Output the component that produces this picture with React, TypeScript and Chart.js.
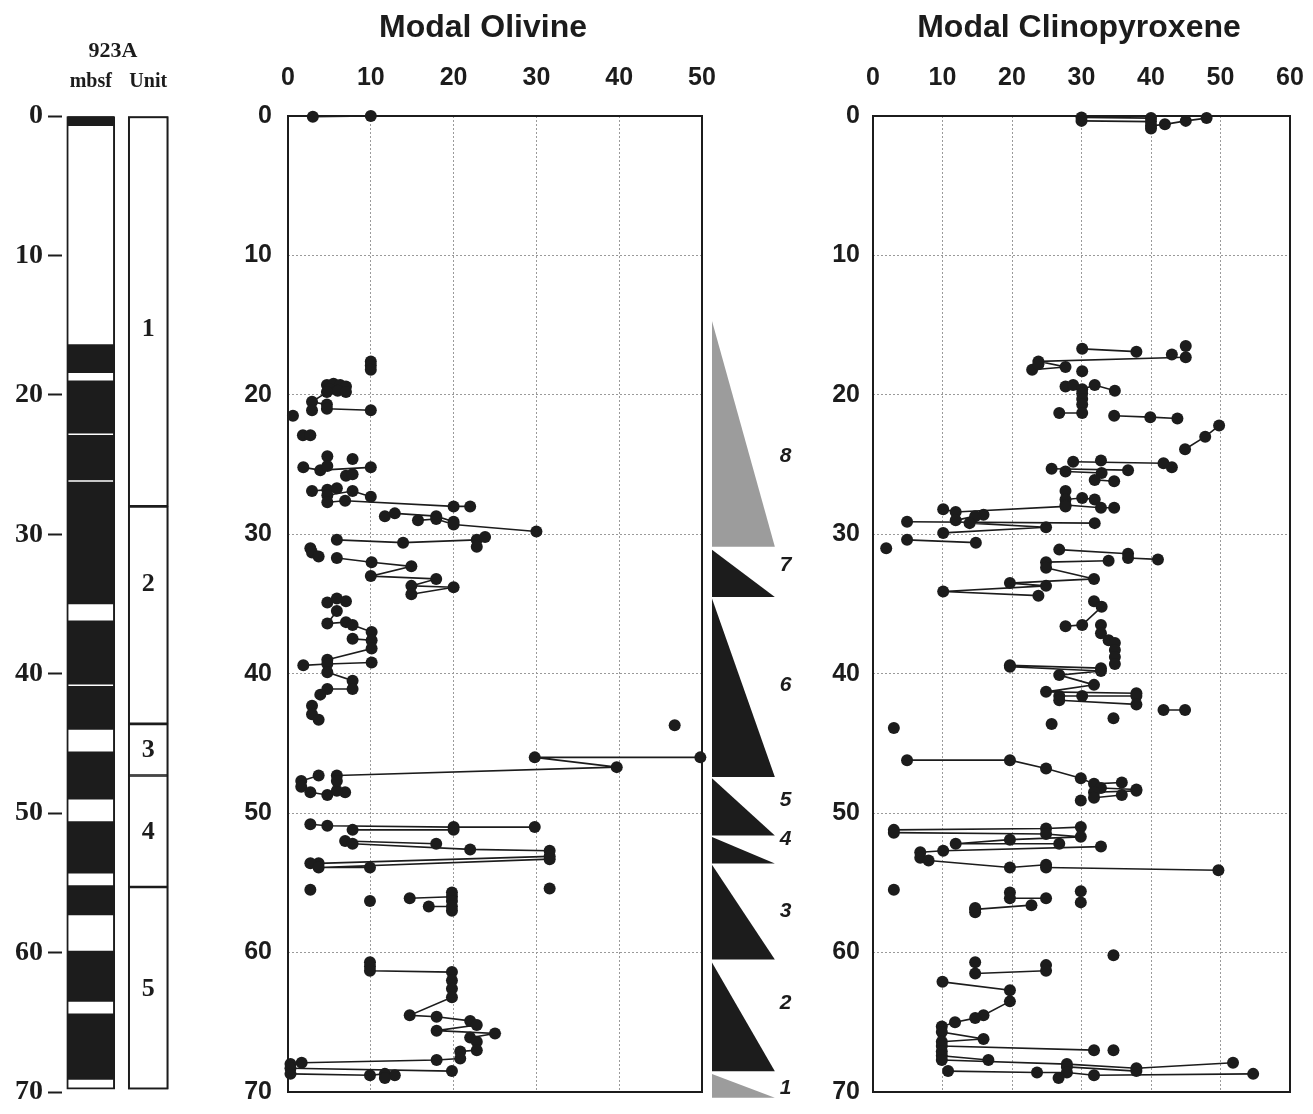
import React, { useEffect, useRef } from "react";
import { Chart, registerables } from "chart.js";

Chart.register(...registerables);

const SANS = '"Liberation Sans", Arial, Helvetica, sans-serif';
const SERIF = '"Liberation Serif", "Times New Roman", serif';
const INK = "#1c1c1c";
const GRID = "#9a9a9a";
const PAGE_W = 1313;
const PAGE_H = 1114;
const PANEL_H = 1130;

// ---------- data ----------
const depthTicks = [0, 10, 20, 30, 40, 50, 60, 70];
const olivineTicks = [0, 10, 20, 30, 40, 50];
const cpxTicks = [0, 10, 20, 30, 40, 50, 60];

// core log (mbsf): black = recovered intervals
const logBottom = 69.8;
const logBlackIntervals: [number, number][] = [
  [0, 0.7], [16.4, 18.4], [19.0, 22.75], [22.9, 26.1], [26.25, 35.0],
  [36.2, 40.75], [40.9, 44.0], [45.6, 49.0], [50.6, 54.3], [55.2, 57.3],
  [59.9, 63.5], [64.4, 69.1],
];

// lithologic units
const unitNames = ["1", "2", "3", "4", "5"];
const unitTops = [0, 28.0, 43.6, 47.3, 55.3];
const unitBottoms = [28.0, 43.6, 47.3, 55.3, 69.8];
const unitLabelDepths = [15.3, 33.6, 45.5, 51.4, 62.6];

// cyclic units (triangles)
const cycleNames = ["8", "7", "6", "5", "4", "3", "2", "1"];
const cycleTops = [14.7, 31.1, 34.6, 47.5, 51.7, 53.7, 60.7, 68.7];
const cycleBottoms = [30.9, 34.5, 47.4, 51.6, 53.6, 60.5, 68.5, 70.4];
const cycleGray = [true, false, false, false, false, false, false, true];
const cycleLabelDepths = [24.4, 32.2, 40.8, 49.1, 51.9, 57.0, 63.6, 69.7];

// Modal olivine: polylines of [modal %, depth mbsf]
const olivineSegments: [number, number][][] = [
  [[3, 0.05], [10, 0]],
  [[10, 17.6], [10, 17.9], [10, 18.2]],
  [[4.7, 19.3], [5.5, 19.2], [6.3, 19.3], [7.0, 19.4]],
  [[5.0, 19.6], [6.0, 19.7], [7.0, 19.8]],
  [[4.7, 19.8], [2.9, 20.5], [4.7, 20.7], [4.7, 21.0], [10, 21.1]],
  [[2.9, 21.1]],
  [[0.6, 21.5]],
  [[1.8, 22.9], [2.7, 22.9]],
  [[4.75, 24.4]],
  [[7.8, 24.6]],
  [[1.85, 25.2], [3.9, 25.4], [10, 25.2]],
  [[4.75, 25.1]],
  [[7.0, 25.8], [7.8, 25.7]],
  [[2.9, 26.9], [4.75, 26.8], [5.9, 26.7]],
  [[4.75, 27.2], [7.8, 26.9], [10, 27.3]],
  [[4.75, 27.7], [6.9, 27.6], [20, 28.0], [22, 28.0]],
  [[11.7, 28.7], [12.9, 28.5], [17.9, 28.7], [20, 29.1]],
  [[15.7, 29.0], [17.9, 28.9], [20, 29.3], [30, 29.8]],
  [[5.9, 30.4], [13.9, 30.6], [22.8, 30.4], [23.8, 30.2]],
  [[22.8, 30.9]],
  [[2.7, 31.0], [2.9, 31.3], [3.7, 31.6]],
  [[5.9, 31.7], [10.1, 32.0], [14.9, 32.3], [10.0, 33.0], [17.9, 33.2], [14.9, 33.7], [20, 33.8], [14.9, 34.3]],
  [[4.75, 34.9], [5.9, 34.6], [7.0, 34.8]],
  [[5.9, 35.5], [4.75, 36.4], [7.0, 36.3], [7.8, 36.5], [10.1, 37.0]],
  [[7.8, 37.5], [10.1, 37.6], [10.1, 38.2], [4.75, 39.0]],
  [[1.85, 39.4], [4.75, 39.3], [10.1, 39.2]],
  [[4.75, 39.9], [7.8, 40.5], [7.8, 41.1], [4.75, 41.1], [3.9, 41.5]],
  [[2.9, 42.3], [2.9, 42.9], [3.7, 43.3]],
  [[46.7, 43.7]],
  [[49.8, 46.0], [29.8, 46.0], [39.7, 46.7], [5.9, 47.3]],
  [[3.7, 47.3], [1.6, 47.7], [1.6, 48.1], [2.7, 48.5], [4.75, 48.7], [6.9, 48.5], [5.9, 48.4], [5.9, 47.7]],
  [[2.7, 50.8], [4.75, 50.9], [20, 51.0], [29.8, 51.0]],
  [[7.8, 51.2], [20, 51.2]],
  [[6.9, 52.0], [17.9, 52.2]],
  [[7.8, 52.2], [22, 52.6], [31.6, 52.7]],
  [[31.6, 53.1], [3.7, 53.6], [2.7, 53.6]],
  [[31.6, 53.3], [3.7, 53.9], [9.9, 53.9]],
  [[2.7, 55.5]],
  [[31.6, 55.4]],
  [[9.9, 56.3]],
  [[14.7, 56.1], [19.8, 56.0]],
  [[19.8, 55.7], [19.8, 56.3], [19.8, 57.0]],
  [[17.0, 56.7], [19.8, 56.7]],
  [[9.9, 60.7], [9.9, 61.0], [9.9, 61.3], [19.8, 61.4], [19.8, 62.0], [19.8, 62.6], [19.8, 63.2], [14.7, 64.5], [17.95, 64.6], [22, 64.9], [22.8, 65.2], [17.95, 65.6], [25, 65.8], [22, 66.1], [22.8, 66.4], [22.8, 67.0], [20.8, 67.1], [20.8, 67.6], [17.95, 67.7], [1.65, 67.9], [0.3, 68.0]],
  [[0.3, 68.3], [19.8, 68.5]],
  [[0.3, 68.7], [9.9, 68.8], [11.7, 68.7], [12.9, 68.8], [11.7, 69.0]],
];

// Modal clinopyroxene: polylines of [modal %, depth mbsf]
const cpxSegments: [number, number][][] = [
  [[30, 0.1], [40, 0.15]],
  [[30, 0.35], [40, 0.4], [40, 0.7], [42, 0.6], [45, 0.35], [48, 0.15]],
  [[40, 0.9]],
  [[30.1, 16.7], [37.9, 16.9]],
  [[45, 16.5]],
  [[43, 17.1]],
  [[45, 17.3], [23.8, 17.6], [27.7, 18.0], [22.9, 18.2], [23.8, 17.8]],
  [[30.1, 18.3]],
  [[27.7, 19.4], [28.8, 19.3], [30.1, 19.6], [31.9, 19.3], [34.8, 19.7]],
  [[30.1, 19.9], [30.1, 20.3], [30.1, 20.7], [30.1, 21.3], [26.8, 21.3]],
  [[34.7, 21.5], [39.9, 21.6], [43.8, 21.7]],
  [[49.8, 22.2], [47.8, 23.0], [44.9, 23.9]],
  [[32.8, 24.7]],
  [[28.8, 24.8], [41.8, 24.9], [43, 25.2]],
  [[25.7, 25.3], [36.7, 25.4]],
  [[27.7, 25.5], [32.9, 25.6], [31.9, 26.1], [34.7, 26.2]],
  [[27.7, 26.9], [27.7, 27.5], [30.1, 27.4], [31.9, 27.5]],
  [[27.7, 27.9], [32.8, 28.1], [34.7, 28.1]],
  [[10.1, 28.2], [11.9, 28.4], [27.7, 28.0]],
  [[15.9, 28.6], [14.7, 28.7], [11.9, 29.0]],
  [[4.9, 29.1], [31.9, 29.2]],
  [[13.9, 29.2], [24.9, 29.5], [10.1, 29.9]],
  [[4.9, 30.4], [14.8, 30.6]],
  [[1.9, 31.0]],
  [[26.8, 31.1], [36.7, 31.4]],
  [[36.7, 31.7], [41, 31.8]],
  [[33.9, 31.9], [24.9, 32.0]],
  [[24.9, 32.4], [31.8, 33.2], [19.7, 33.5], [24.9, 33.7], [10.1, 34.1], [23.8, 34.4]],
  [[31.8, 34.8], [32.9, 35.2], [30.1, 36.5], [27.7, 36.6]],
  [[32.8, 36.5], [32.8, 37.1], [33.9, 37.6], [34.8, 37.8], [34.8, 38.3], [34.8, 38.8], [34.8, 39.3]],
  [[19.7, 39.4], [32.8, 39.6]],
  [[19.7, 39.5], [32.8, 39.8], [26.8, 40.1], [31.8, 40.8], [24.9, 41.3], [37.9, 41.4]],
  [[26.8, 41.6], [30.1, 41.6], [37.9, 41.6]],
  [[26.8, 41.9], [37.9, 42.2]],
  [[41.8, 42.6], [44.9, 42.6]],
  [[34.6, 43.2]],
  [[25.7, 43.6]],
  [[3.0, 43.9]],
  [[4.9, 46.2], [19.7, 46.2], [24.9, 46.8], [29.9, 47.5], [31.8, 47.9], [35.8, 47.8]],
  [[32.8, 48.2], [37.9, 48.3]],
  [[31.8, 48.5], [37.9, 48.4]],
  [[31.8, 48.9], [35.8, 48.7]],
  [[29.9, 49.1]],
  [[3, 51.2], [24.9, 51.1], [29.9, 51.0]],
  [[3, 51.4], [24.9, 51.5], [29.9, 51.7], [19.7, 51.9], [11.9, 52.2], [26.8, 52.2]],
  [[32.8, 52.4], [10.1, 52.7], [6.8, 52.8]],
  [[6.8, 53.2], [8, 53.4], [19.7, 53.9], [24.9, 53.7]],
  [[24.9, 53.9], [49.7, 54.1]],
  [[3, 55.5]],
  [[19.7, 55.7], [19.7, 56.1], [24.9, 56.1]],
  [[29.9, 55.6], [29.9, 56.4]],
  [[14.7, 56.8], [14.7, 57.1]],
  [[14.7, 56.9], [22.8, 56.6]],
  [[34.6, 60.2]],
  [[14.7, 60.7]],
  [[24.9, 60.9]],
  [[14.7, 61.5], [24.9, 61.3]],
  [[10, 62.1], [19.7, 62.7], [19.7, 63.5], [15.9, 64.5], [14.7, 64.7], [11.8, 65.0], [9.9, 65.3], [9.9, 65.7], [15.9, 66.2], [9.9, 66.4], [9.9, 66.7], [31.8, 67.0]],
  [[34.6, 67.0]],
  [[9.9, 67.1], [9.9, 67.4], [16.6, 67.7]],
  [[9.9, 67.7], [27.9, 68.0], [37.9, 68.3], [51.8, 67.9]],
  [[27.9, 68.2], [37.9, 68.5]],
  [[10.8, 68.5], [23.6, 68.6], [27.9, 68.6], [31.8, 68.8], [54.7, 68.7]],
  [[26.7, 69.0]],
];

// ---------- helpers ----------
function toLineData(segs: [number, number][][]) {
  const out: { x: number | null; y: number | null }[] = [];
  segs.forEach((seg, i) => {
    if (i > 0) out.push({ x: null, y: null });
    seg.forEach(([v, d]) => out.push({ x: v, y: d }));
  });
  return out;
}

const framePlugin = {
  id: "frame",
  beforeDatasetsDraw(chart: any) {
    const { ctx, chartArea: a } = chart;
    ctx.save();
    ctx.strokeStyle = INK;
    ctx.lineWidth = 2;
    ctx.strokeRect(a.left, a.top, a.right - a.left, a.bottom - a.top);
    ctx.restore();
  },
};

// invisible right-hand spacer axis (keeps titles centred like the original figure)
function spacerAxis(width: number): any {
  return {
    type: "linear",
    position: "right",
    display: true,
    min: 0,
    max: 1,
    ticks: { display: false },
    grid: { display: false, drawTicks: false },
    border: { display: false },
    afterFit: (s: any) => {
      s.width = width;
    },
  };
}

function panelConfig(p: {
  title: string;
  segments: [number, number][][];
  xMax: number;
  xTicks: number[];
  yAxisWidth: number;
  rightWidth: number;
  yTickPad: number;
}): any {
  const tickFont = { family: SANS, size: 25, weight: "bold" as const };
  return {
    type: "line",
    data: {
      datasets: [
        {
          data: toLineData(p.segments),
          borderColor: INK,
          borderWidth: 1.6,
          pointRadius: 6,
          pointBackgroundColor: INK,
          pointBorderColor: INK,
          pointBorderWidth: 0,
          spanGaps: false,
          tension: 0,
          fill: false,
          clip: false,
        },
      ],
    },
    options: {
      animation: false,
      responsive: false,
      events: [],
      layout: { padding: { left: 0, right: 0, top: 0, bottom: PANEL_H - 1092 } },
      plugins: {
        legend: { display: false },
        tooltip: { enabled: false },
        title: {
          display: true,
          text: p.title,
          color: INK,
          font: { family: SANS, size: 32, weight: "bold" },
          padding: { top: 9, bottom: 7 },
        },
      },
      scales: {
        x: {
          type: "linear",
          position: "top",
          min: 0,
          max: p.xMax,
          afterFit: (s: any) => {
            s.height = 116 - 54.4;
          },
          afterBuildTicks: (s: any) => {
            s.ticks = p.xTicks.map((v) => ({ value: v }));
          },
          ticks: { color: INK, font: tickFont, padding: 23 },
          grid: { color: GRID, lineWidth: 1, drawTicks: false },
          border: { display: false, dash: [2, 2] },
        },
        y: {
          type: "linear",
          position: "left",
          reverse: true,
          min: 0,
          max: 70,
          afterFit: (s: any) => {
            s.width = p.yAxisWidth;
          },
          afterBuildTicks: (s: any) => {
            s.ticks = depthTicks.map((v) => ({ value: v }));
          },
          ticks: { color: INK, font: tickFont, padding: p.yTickPad },
          grid: { color: GRID, lineWidth: 1, drawTicks: false },
          border: { display: false, dash: [2, 2] },
        },
        yR: spacerAxis(p.rightWidth),
      },
    },
    plugins: [framePlugin],
  };
}

const unitLabelPlugin = {
  id: "unitLabels",
  afterDatasetsDraw(chart: any) {
    const { ctx, scales } = chart;
    const x = scales.x.getPixelForValue(1);
    ctx.save();
    ctx.fillStyle = INK;
    ctx.font = `bold 26px ${SERIF}`;
    ctx.textAlign = "center";
    ctx.textBaseline = "middle";
    unitNames.forEach((n, i) => {
      ctx.fillText(n, x, scales.y.getPixelForValue(unitLabelDepths[i]));
    });
    ctx.restore();
  },
};

function logConfig(): any {
  return {
    type: "bar",
    data: {
      labels: ["mbsf", "Unit"],
      datasets: [
        {
          data: logBlackIntervals.map(([a, b]) => ({ x: "mbsf", y: [a, b] })),
          backgroundColor: INK,
          borderWidth: 0,
          barThickness: 46,
          grouped: false,
          yAxisID: "y",
        },
        {
          data: unitTops.map((t, i) => ({ x: "Unit", y: [t, unitBottoms[i]] })),
          backgroundColor: "rgba(0,0,0,0)",
          borderColor: INK,
          borderWidth: 1,
          borderSkipped: false,
          barThickness: 40,
          grouped: false,
          yAxisID: "y",
        },
        {
          data: [{ x: "mbsf", y: [0, logBottom] }],
          backgroundColor: "#ffffff",
          borderColor: INK,
          borderWidth: 2,
          borderSkipped: false,
          barThickness: 48,
          grouped: false,
          yAxisID: "y",
        },
        {
          data: [{ x: "Unit", y: [0, unitBottoms[unitBottoms.length - 1]] }],
          backgroundColor: "#ffffff",
          borderColor: INK,
          borderWidth: 2,
          borderSkipped: false,
          barThickness: 40,
          grouped: false,
          yAxisID: "y",
        },
      ],
    },
    options: {
      animation: false,
      responsive: false,
      events: [],
      layout: { padding: { left: 0, right: 0, top: 0, bottom: PANEL_H - 1092 } },
      plugins: {
        legend: { display: false },
        tooltip: { enabled: false },
        title: {
          display: true,
          text: "923A",
          color: INK,
          font: { family: SERIF, size: 22, weight: "bold" },
          padding: { top: 38, bottom: 4 },
        },
      },
      scales: {
        x: {
          position: "top",
          afterFit: (s: any) => {
            s.height = 116 - 68.4;
          },
          grid: { display: false },
          border: { display: false },
          ticks: { color: INK, font: { family: SERIF, size: 20, weight: "bold" }, padding: 14 },
        },
        y: {
          type: "linear",
          position: "left",
          reverse: true,
          min: 0,
          max: 70,
          afterFit: (s: any) => {
            s.width = 62;
          },
          afterBuildTicks: (s: any) => {
            s.ticks = depthTicks.map((v) => ({ value: v }));
          },
          ticks: { color: INK, font: { family: SERIF, size: 28, weight: "bold" }, padding: 5 },
          grid: {
            drawOnChartArea: false,
            drawTicks: true,
            tickLength: 14,
            tickWidth: 2,
            tickColor: INK,
            color: INK,
          },
          border: { display: false },
        },
        yR: spacerAxis(49),
      },
    },
    plugins: [unitLabelPlugin],
  };
}

const cycleLabelPlugin = {
  id: "cycleLabels",
  afterDatasetsDraw(chart: any) {
    const { ctx, scales } = chart;
    const x = scales.x.getPixelForValue(1.17);
    ctx.save();
    ctx.fillStyle = INK;
    ctx.font = `italic bold 21px ${SANS}`;
    ctx.textAlign = "center";
    ctx.textBaseline = "middle";
    cycleNames.forEach((n, i) => {
      ctx.fillText(n, x, scales.y.getPixelForValue(cycleLabelDepths[i]));
    });
    ctx.restore();
  },
};

function cycleConfig(): any {
  return {
    type: "line",
    data: {
      datasets: cycleNames.map((_, i) => {
        const col = cycleGray[i] ? "#9c9c9c" : INK;
        return {
          data: [
            { x: 0, y: cycleTops[i] },
            { x: 1, y: cycleBottoms[i] },
            { x: 0, y: cycleBottoms[i] },
          ],
          fill: "shape",
          backgroundColor: col,
          borderColor: col,
          borderWidth: 0,
          pointRadius: 0,
          tension: 0,
        };
      }),
    },
    options: {
      animation: false,
      responsive: false,
      events: [],
      layout: { padding: { left: 12, right: 10, top: 116, bottom: 8 } },
      plugins: { legend: { display: false }, tooltip: { enabled: false } },
      scales: {
        x: { type: "linear", display: false, min: 0, max: 1.4 },
        y: { type: "linear", display: false, reverse: true, min: 0, max: 71 },
      },
    },
    plugins: [cycleLabelPlugin],
  };
}

function ChartCanvas({
  left,
  width,
  height,
  make,
}: {
  left: number;
  width: number;
  height: number;
  make: () => any;
}) {
  const ref = useRef<HTMLCanvasElement | null>(null);
  useEffect(() => {
    if (!ref.current) return;
    const chart = new Chart(ref.current, make());
    return () => chart.destroy();
  }, []);
  return (
    <canvas
      ref={ref}
      width={width}
      height={height}
      style={{ position: "absolute", left, top: 0, width, height, display: "block" }}
    />
  );
}

export default function App() {
  return (
    <div
      style={{
        position: "absolute",
        left: 0,
        top: 0,
        width: PAGE_W,
        height: PAGE_H,
        background: "#ffffff",
        overflow: "hidden",
      }}
    >
      <ChartCanvas left={0} width={226} height={PANEL_H} make={logConfig} />
      <ChartCanvas
        left={210}
        width={546}
        height={PANEL_H}
        make={() =>
          panelConfig({
            title: "Modal Olivine",
            segments: olivineSegments,
            xMax: 50,
            xTicks: olivineTicks,
            yAxisWidth: 78,
            rightWidth: 54,
            yTickPad: 16,
          })
        }
      />
      <ChartCanvas left={700} width={110} height={PAGE_H} make={cycleConfig} />
      <ChartCanvas
        left={810}
        width={538}
        height={PANEL_H}
        make={() =>
          panelConfig({
            title: "Modal Clinopyroxene",
            segments: cpxSegments,
            xMax: 60,
            xTicks: cpxTicks,
            yAxisWidth: 63,
            rightWidth: 58,
            yTickPad: 13,
          })
        }
      />
    </div>
  );
}
